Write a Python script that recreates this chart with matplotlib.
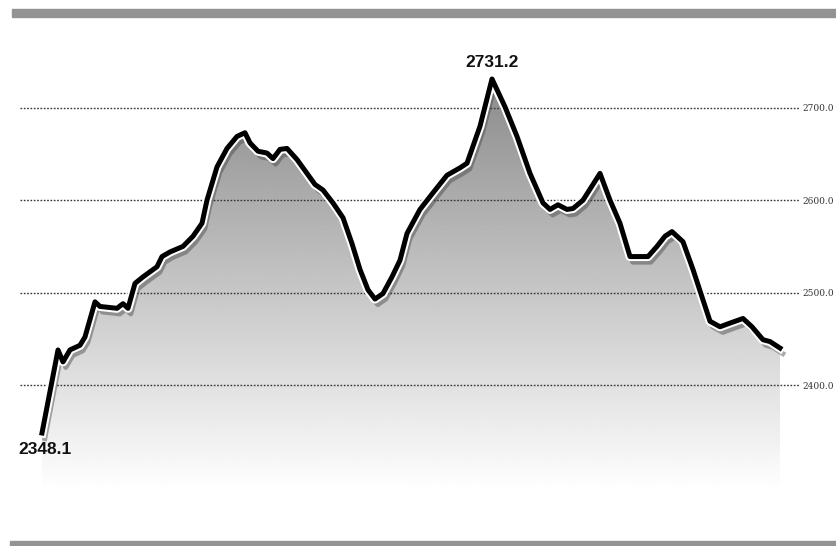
import numpy as np
import matplotlib
matplotlib.use('Agg')
import matplotlib.pyplot as plt
import matplotlib.patheffects as pe
from matplotlib.patches import Rectangle, Polygon

# trading days (position along the period) and index close
days = [2, 18, 23, 30, 40, 45, 55, 60, 77, 83, 88, 95, 103, 117, 122, 130, 143, 153,
        162, 167, 177, 187, 197, 205, 210, 218, 227, 233, 240, 247, 257, 267, 275, 283,
        293, 303, 312, 320, 328, 335, 343, 352, 360, 367, 380, 393, 407, 420, 427, 440,
        452, 465, 477, 490, 503, 510, 518, 527, 533, 543, 560, 570, 580, 590, 597, 608,
        617, 625, 632, 643, 653, 663, 670, 680, 690, 703, 712, 723, 730, 740]
values = [2348.1, 2437.9, 2425, 2438, 2443, 2452, 2490, 2485, 2483, 2488, 2483, 2510,
          2517, 2528, 2539, 2544, 2550, 2561, 2575, 2600, 2636, 2656, 2669, 2673, 2662,
          2653, 2651, 2645, 2655, 2656, 2644, 2629, 2617, 2611, 2597, 2581, 2553, 2525,
          2503, 2493, 2499, 2517, 2535, 2564, 2590, 2608, 2627, 2635, 2640, 2680, 2731.2,
          2701, 2669, 2629, 2597, 2590, 2595, 2590, 2591, 2600, 2629, 2600, 2575, 2539,
          2539, 2539, 2550, 2561, 2566, 2555, 2525, 2492, 2469, 2463, 2467, 2472, 2463,
          2449, 2447, 2440]
grid_levels = [2400, 2500, 2600, 2700]
grid_labels = ['2400.0', '2500.0', '2600.0', '2700.0']

fig = plt.figure(figsize=(8.36, 5.46), dpi=100)
fig.patch.set_facecolor('white')

# grey rules at top and bottom
fig.patches.append(Rectangle((12 / 836, 1 - 17 / 546), 824 / 836, 8 / 546,
                             transform=fig.transFigure, color='#939393', zorder=0))
fig.patches.append(Rectangle((10 / 836, 0), 826 / 836, 5 / 546,
                             transform=fig.transFigure, color='#939393', zorder=0))

ax = fig.add_axes([20 / 836, 21 / 546, 780 / 836, 505 / 546])
ax.set_xlim(-20, 760)
ax.set_ylim(2248.5, 2795)
for s in ax.spines.values():
    s.set_visible(False)
ax.set_xticks([])
ax.yaxis.tick_right()
ax.set_yticks(grid_levels)
ax.set_yticklabels(grid_labels, fontsize=6.5, color='#333333', fontfamily='DejaVu Serif')
ax.tick_params(axis='y', length=0, pad=2)

# gradient fill under the line (dark at top, fading to white)
ylo, yhi = ax.get_ylim()
grad = np.linspace(0.55, 1.0, 256).reshape(-1, 1)
img = ax.imshow(grad, cmap='gray', vmin=0, vmax=1, aspect='auto', origin='upper',
                extent=[days[0], days[-1], 2285, 2725], zorder=1)
poly = Polygon(list(zip(days, values)) + [(days[-1], 2285), (days[0], 2285)],
               closed=True, facecolor='none', edgecolor='none')
ax.add_patch(poly)
img.set_clip_path(poly)
ax.set_ylim(ylo, yhi)

for lev in grid_levels:
    ax.axhline(lev, color='#333333', lw=1.0, ls=(0, (1.2, 1.2)), zorder=2)

ax.plot(days, values, color='black', lw=3.6, solid_joinstyle='round', zorder=4,
        path_effects=[pe.SimpleLineShadow(offset=(2, -4), shadow_color='#444444', alpha=0.45),
                      pe.withStroke(linewidth=6.5, foreground='white')])

label_font = ['Liberation Sans Narrow', 'Liberation Sans']
ax.text(days[50], 2749, '2731.2', ha='center', va='center', fontsize=12.5,
        fontweight='bold', color='#111111', fontfamily=label_font)
ax.text(days[0] + 3, 2330, '2348.1', ha='center', va='center', fontsize=12.5,
        fontweight='bold', color='#111111', fontfamily=label_font)

fig.savefig('out.png', dpi=100)
